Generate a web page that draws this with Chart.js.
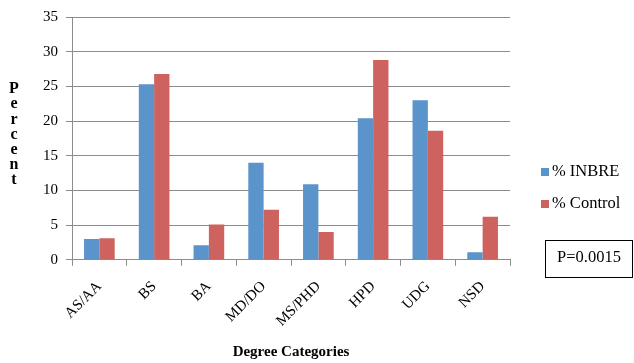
<!DOCTYPE html>
<html>
<head>
<meta charset="utf-8">
<script src="https://cdn.jsdelivr.net/npm/chart.js@4/dist/chart.umd.min.js"></script>
<style>
  html, body { margin: 0; padding: 0; background: #fff; }
  #wrap { width: 634px; height: 363px; }
</style>
</head>
<body>
<div id="wrap"><canvas id="degreeChart" width="634" height="363"></canvas></div>
<script>
// Degree categories, INBRE vs control (percent)
const categories = ['AS/AA', 'BS', 'BA', 'MD/DO', 'MS/PHD', 'HPD', 'UDG', 'NSD'];
const inbre = [3.0, 25.3, 2.1, 14.0, 10.9, 20.4, 23.0, 1.1];
const control = [3.1, 26.8, 5.1, 7.2, 4.0, 28.8, 18.6, 6.2];
const seriesNames = ['% INBRE', '% Control'];
const seriesColors = ['#5b93cb', '#cd625e'];
const yTitle = 'Percent';
const xTitle = 'Degree Categories';
const pValue = 'P=0.0015';

const serif = '"Liberation Serif", "Times New Roman", serif';

// legend, vertical y-title and the P-value box, drawn beside the plot
const sidePlugin = {
  id: 'sideText',
  afterDraw(chart) {
    const c = chart.ctx;
    c.save();
    c.fillStyle = '#000';
    c.font = 'bold 16px ' + serif;
    c.textAlign = 'center';
    c.textBaseline = 'middle';
    const letters = yTitle.split('');
    letters.forEach((ch, i) => {
      c.fillText(ch, 14, 89 + i * 15.2);
    });

    c.font = '16.5px ' + serif;
    c.textAlign = 'left';
    seriesNames.forEach((name, i) => {
      const y = 172 + i * 32;
      c.fillStyle = seriesColors[i];
      c.fillRect(541, y - 4, 8, 8);
      c.fillStyle = '#000';
      c.fillText(name, 552, y);
    });

    c.strokeStyle = '#000';
    c.lineWidth = 1;
    c.strokeRect(545.5, 240.5, 87, 37);
    c.textAlign = 'center';
    c.fillText(pValue, 589, 258);
    c.restore();
  }
};

new Chart(document.getElementById('degreeChart'), {
  type: 'bar',
  data: {
    labels: categories,
    datasets: [
      { label: seriesNames[0], data: inbre, backgroundColor: seriesColors[0] },
      { label: seriesNames[1], data: control, backgroundColor: seriesColors[1] }
    ]
  },
  options: {
    responsive: false,
    animation: false,
    layout: { padding: { left: 35, right: 124, top: 8, bottom: 2 } },
    datasets: { bar: { categoryPercentage: 0.56, barPercentage: 1.0 } },
    plugins: {
      legend: { display: false },
      tooltip: { enabled: false }
    },
    scales: {
      x: {
        grid: { display: true, drawOnChartArea: false, tickLength: 6, color: '#8c8c8c' },
        border: { color: '#8c8c8c' },
        ticks: {
          color: '#000',
          font: { family: serif, size: 15 },
          maxRotation: 45,
          minRotation: 45,
          padding: 12
        },
        title: {
          display: true,
          text: xTitle,
          color: '#000',
          font: { family: serif, size: 15, weight: 'bold' },
          padding: { top: 1, bottom: 0 }
        }
      },
      y: {
        min: 0,
        max: 35,
        grid: { color: '#8c8c8c', tickLength: 6 },
        border: { color: '#8c8c8c' },
        ticks: {
          stepSize: 5,
          color: '#000',
          font: { family: serif, size: 15 },
          padding: 8
        }
      }
    }
  },
  plugins: [sidePlugin]
});
</script>
</body>
</html>
